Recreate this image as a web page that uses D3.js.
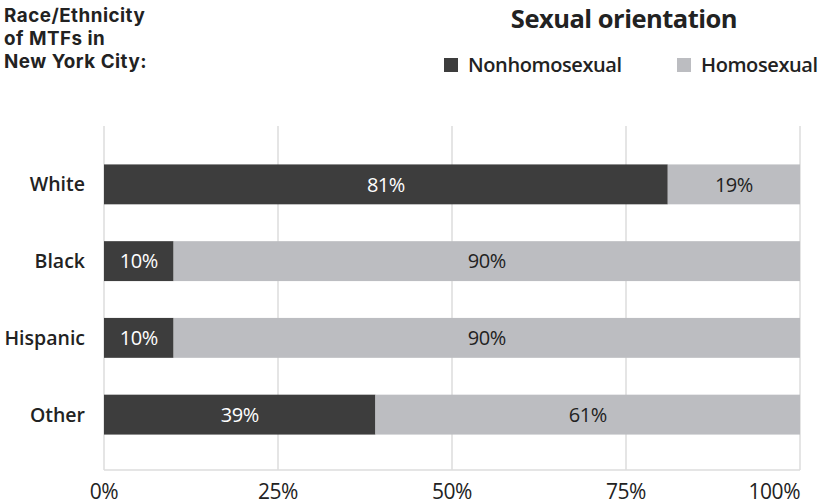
<!DOCTYPE html>
<html><head><meta charset="utf-8">
<script src="https://cdn.jsdelivr.net/npm/d3@7"></script>
<style>body{margin:0;background:#fff}svg{font-family:"Open Sans",sans-serif}</style>
</head><body><svg id="c" width="822" height="504"></svg>
<script>
const categories = ["White","Black","Hispanic","Other"];
const nonhomosexual = [81,10,10,39];
const homosexual = [19,90,90,61];
const seriesNames = ["Nonhomosexual","Homosexual"];
const tickValues = [0,25,50,75,100];
const tickLabels = ["0%","25%","50%","75%","100%"];
const titleLines = ["Race/Ethnicity","of MTFs in","New York City:"];
const legendTitle = "Sexual orientation";

const colors = ["#3d3d3d","#bcbdc1"];
const svg = d3.select("#c");
const x = d3.scaleLinear().domain([0,100]).range([104,800]);
const y = d3.scaleBand().domain(categories).range([146,453]).paddingInner(0.48).paddingOuter(0.24);

// grid
svg.append("g").selectAll("line").data(tickValues).join("line")
  .attr("x1",d=>x(d)).attr("x2",d=>x(d)).attr("y1",126).attr("y2",470)
  .attr("stroke","#dcdcdc").attr("stroke-width",1.5);
svg.append("line").attr("x1",x(0)).attr("x2",x(100)).attr("y1",470).attr("y2",470)
  .attr("stroke","#dcdcdc").attr("stroke-width",1.5);

// tick labels
svg.append("g").selectAll("text").data(tickValues).join("text")
  .attr("x",d=>Math.min(x(d), 818)).attr("y",499)
  .attr("text-anchor",(d,i)=>i===tickValues.length-1?"end":"middle")
  .attr("font-size",21).attr("fill","#222").attr("letter-spacing",-0.5)
  .text((d,i)=>tickLabels[i]);

// bars
const rows = categories.map((c,i)=>({c, vals:[nonhomosexual[i],homosexual[i]]}));
rows.forEach(r=>{
  let acc=0;
  r.vals.forEach((v,j)=>{
    const x0=x(acc), x1=x(acc+v); acc+=v;
    svg.append("rect").attr("x",x0).attr("y",y(r.c)).attr("width",x1-x0).attr("height",y.bandwidth()).attr("fill",colors[j]);
    svg.append("text").attr("x",(x0+x1)/2).attr("y",y(r.c)+y.bandwidth()/2).attr("dy","0.36em")
      .attr("text-anchor","middle").attr("font-size",20).attr("letter-spacing",-0.5).attr("fill",j===0?"#fff":"#222").text(v+"%");
  });
  svg.append("text").attr("x",85).attr("y",y(r.c)+y.bandwidth()/2).attr("dy","0.36em")
    .attr("text-anchor","end").attr("font-size",19.5).attr("font-weight",600).attr("fill","#222").text(r.c);
});

// title
svg.append("g").selectAll("text").data(titleLines).join("text")
  .attr("x",4).attr("y",(d,i)=>22+i*23).attr("font-family","Inter, sans-serif")
  .attr("font-size",18.8).attr("font-weight",700).attr("fill","#222")
  .attr("letter-spacing",0.5).text(d=>d);

// legend
svg.append("text").attr("x",624).attr("y",28).attr("text-anchor","middle").attr("font-size",25.5)
  .attr("font-weight",700).attr("fill","#222").attr("letter-spacing",-0.5).text(legendTitle);
const lx=[444,677];
seriesNames.forEach((s,i)=>{
  svg.append("rect").attr("x",lx[i]).attr("y",58).attr("width",14).attr("height",14).attr("fill",colors[i]);
  svg.append("text").attr("x",lx[i]+24).attr("y",72).attr("font-size",20).attr("font-weight",600).attr("fill","#222").attr("letter-spacing",-0.4).text(s);
});
</script></body></html>
